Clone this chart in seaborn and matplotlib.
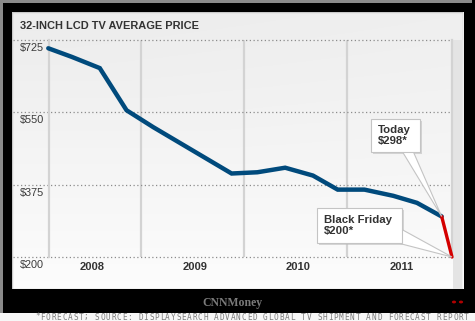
import numpy as np
import pandas as pd
import matplotlib
matplotlib.use("Agg")
import matplotlib.pyplot as plt
from matplotlib.patches import Rectangle, Polygon, Circle
import seaborn as sns

# Average price of a 32-inch LCD TV (US$), quarterly readings
period = [2008.10, 2008.33, 2008.60, 2008.86, 2009.12, 2009.88, 2010.13,
          2010.40, 2010.67, 2010.91, 2011.17, 2011.45, 2011.68, 2011.92]
price = [705, 684, 657, 555, 514, 402, 405, 416, 397, 363, 363, 348, 331, 298]

# Forecast drop from today's price to Black Friday
forecast_period = [2011.92, 2012.02]
forecast_price = [298, 200]

year_labels = ["2008", "2009", "2010", "2011"]
price_ticks = [200, 375, 550, 725]

title = "32-INCH LCD TV AVERAGE PRICE"
today_label = "Today\n$298*"
friday_label = "Black Friday\n$200*"
footnote = "*FORECAST; SOURCE: DISPLAYSEARCH ADVANCED GLOBAL TV SHIPMENT AND FORECAST REPORT"

hist = pd.DataFrame({"period": period, "price": price})
fcst = pd.DataFrame({"period": forecast_period, "price": forecast_price})

sns.set_theme(style="white")
plt.rcParams["font.family"] = ["Liberation Sans", "DejaVu Sans"]

W, H = 475, 321
fig = plt.figure(figsize=(W / 100, H / 100), dpi=100)
fig.patch.set_facecolor("black")


def fx(px):
    return px / W


def fy(py):
    return 1 - py / H


# outer grey rim (top and left)
fig.patches.append(Rectangle((0, fy(3)), fx(472), 3 / H, transform=fig.transFigure,
                             facecolor="#8a8a8a", edgecolor="none", zorder=0))
fig.patches.append(Rectangle((0, fy(313)), fx(3), (313 - 3) / H, transform=fig.transFigure,
                             facecolor="#8a8a8a", edgecolor="none", zorder=0))
# footnote strip
fig.patches.append(Rectangle((0, 0), 1, 8 / H, transform=fig.transFigure,
                             facecolor="#f7f7f7", edgecolor="none", zorder=0))

# light panel with a soft gradient
bg = fig.add_axes([fx(12), fy(289), fx(463 - 12), (289 - 12) / H])
ny, nx = 200, 300
yy, xx = np.mgrid[0:1:ny * 1j, 0:1:nx * 1j]
shade = 0.925 + 0.065 * yy + 0.02 * np.clip((xx - yy) * 0.6, 0, 1) * (1 - yy)
shade = np.clip(shade, 0, 1)
bg.imshow(np.dstack([shade] * 3), aspect="auto", extent=(0, 1, 0, 1), origin="upper")
bg.add_patch(Rectangle((0, 0), 1, 1, transform=bg.transAxes, fill=False,
                       edgecolor="#c9c9c9", linewidth=1.0))
# right edge strip
bg.add_patch(Rectangle(((453 - 12) / 451, 0), (462 - 453) / 451, 1 - 28 / 277,
                       transform=bg.transAxes, facecolor="#e4e4e4", edgecolor="none"))
bg.set_axis_off()

ax = fig.add_axes([fx(49), fy(257), fx(452 - 49), (257 - 40) / H])
ax.set_facecolor("none")
ax.set_xlim(2008.107, 2012.02)
ax.set_ylim(200, 725)

# vertical year separators
for yr in [2009, 2010, 2011]:
    ax.axvline(yr, color="#d3d3d3", linewidth=1.6, zorder=1)
for side in ["left", "right"]:
    ax.spines[side].set_color("#d3d3d3")
    ax.spines[side].set_linewidth(1.6)
for side in ["top", "bottom"]:
    ax.spines[side].set_visible(False)

# dotted price gridlines spanning the panel
for v in price_ticks:
    ax.axhline(v, xmin=(13 - 49) / 403, xmax=1.0, clip_on=False,
               color="#8c8c8c", linestyle=(0, (1, 2)), linewidth=0.9, zorder=1)

sns.lineplot(data=hist, x="period", y="price", ax=ax, color="#004a7c",
             linewidth=3.2, zorder=4, legend=False)
sns.lineplot(data=fcst, x="period", y="price", ax=ax, color="#d40000",
             linewidth=2.4, zorder=4, legend=False)
for ln in ax.lines[-2:]:
    ln.set_clip_on(False)
    ln.set_solid_joinstyle("miter")

ax.set_xticks([])
ax.set_yticks([])
ax.set_xlabel("")
ax.set_ylabel("")

# price labels below each gridline
ytf = matplotlib.transforms.blended_transform_factory(fig.transFigure, ax.transData)
ytf = ytf + matplotlib.transforms.ScaledTranslation(0, -3 / 100, fig.dpi_scale_trans)
for v in price_ticks:
    ax.text(fx(20), v, f"${v}", transform=ytf,
            ha="left", va="top", fontsize=7.8, color="#3a3a3a")

# year labels
xtf = matplotlib.transforms.blended_transform_factory(ax.transData, fig.transFigure)
for lab in year_labels:
    ax.text(int(lab) + 0.53, fy(267), lab, transform=xtf,
            ha="center", va="center", fontsize=8, fontweight="bold", color="#333333")

# title
fig.text(fx(20), fy(26), title, ha="left", va="center", fontsize=7.9,
         fontweight="bold", color="#333333")

# branding
fig.text(fx(232), fy(303), "CNNMoney", ha="center", va="center", fontsize=8.5,
         fontweight="bold", family="Liberation Serif", color="#7a7a7a")
for cx in [454, 461]:
    fig.patches.append(Circle((fx(cx), fy(302)), 2.1 / W, transform=fig.transFigure,
                              facecolor="#b00000", edgecolor="none"))

# footnote in spaced capitals
for i, ch in enumerate(footnote):
    fig.text(fx(35 + i * 5.43), fy(317), ch, ha="left", va="center",
             fontsize=5.6, family="DejaVu Sans Mono", color="#7c7c7c")


def to_fig(px, py):
    return (fx(px), fy(py))


def data_to_fig(x, y):
    disp = ax.transData.transform((x, y))
    return tuple(fig.transFigure.inverted().transform(disp))


def callout(box, base, tip, text):
    x0, y0, x1, y1 = box
    # shadow
    fig.patches.append(Rectangle(to_fig(x0 + 2, y1 + 2), fx(x1 - x0), (y1 - y0) / H,
                                 transform=fig.transFigure, facecolor="#bdbdbd",
                                 edgecolor="none", alpha=0.6, zorder=5))
    wedge = Polygon([to_fig(*base[0]), to_fig(*base[1]), tip], closed=True,
                    transform=fig.transFigure, facecolor="white",
                    edgecolor="#c4c4c4", linewidth=0.8, zorder=5)
    fig.patches.append(wedge)
    fig.patches.append(Rectangle(to_fig(x0, y1), fx(x1 - x0), (y1 - y0) / H,
                                 transform=fig.transFigure, facecolor="white",
                                 edgecolor="#c4c4c4", linewidth=0.8, zorder=6))
    fig.text(fx(x0 + 7), fy((y0 + y1) / 2), text, ha="left", va="center",
             fontsize=8.2, fontweight="bold", color="#333333",
             linespacing=1.05, zorder=7)


callout((371, 119, 420, 152), [(402, 151), (413, 151)],
        data_to_fig(forecast_period[0], forecast_price[0]), today_label)
callout((317, 208, 402, 243), [(401, 229), (394, 242)],
        data_to_fig(forecast_period[1], forecast_price[1]), friday_label)

fig.savefig("out.png", dpi=100, facecolor=fig.get_facecolor())
